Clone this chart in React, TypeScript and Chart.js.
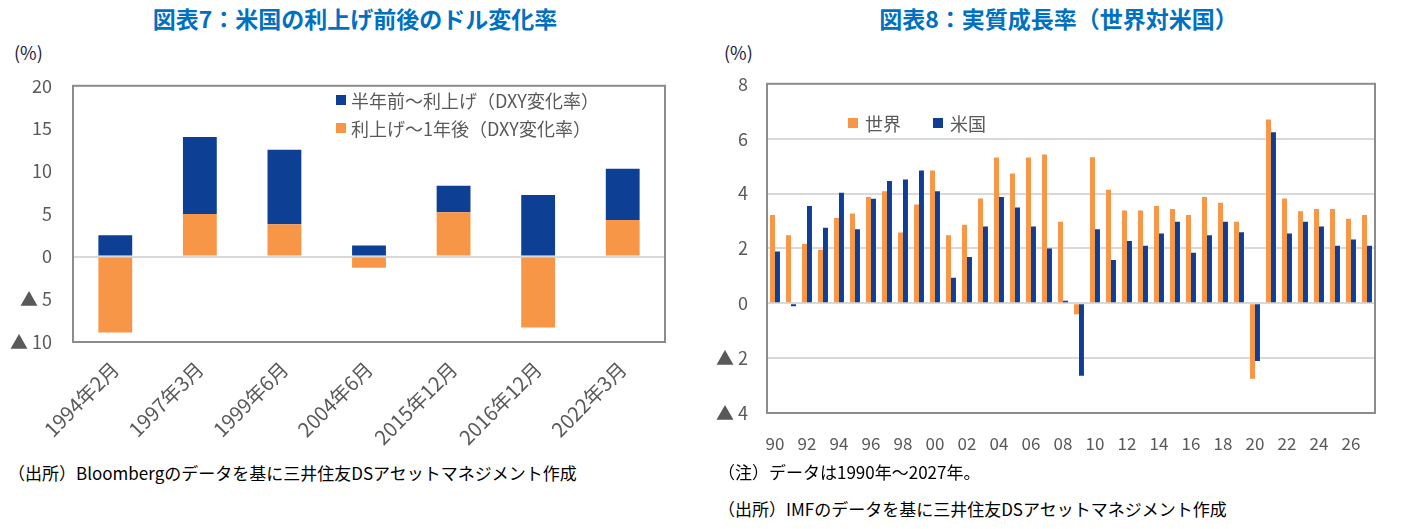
import React, { useEffect, useRef } from "react";
import { Chart, registerables } from "chart.js";

Chart.register(...registerables);

// ---------- Data: 図表7 ----------
const hikeDates = ["1994年2月", "1997年3月", "1999年6月", "2004年6月", "2015年12月", "2016年12月", "2022年3月"];
const beforeHike = [2.5, 9.0, 8.7, 1.3, 3.1, 7.2, 6.0]; // 半年前～利上げ
const afterHike = [-8.9, 5.0, 3.8, -1.3, 5.2, -8.3, 4.3]; // 利上げ～1年後
const leftTickMin = -10;
const leftTickMax = 20;
const leftTickStep = 5;

// ---------- Data: 図表8 ----------
const yearLabels = [
  "90", "91", "92", "93", "94", "95", "96", "97", "98", "99",
  "00", "01", "02", "03", "04", "05", "06", "07", "08", "09",
  "10", "11", "12", "13", "14", "15", "16", "17", "18", "19",
  "20", "21", "22", "23", "24", "25", "26", "27",
];
const worldGrowth = [
  3.22, 2.48, 2.16, 1.95, 3.11, 3.27, 3.87, 4.08, 2.58, 3.6,
  4.84, 2.48, 2.86, 3.82, 5.31, 4.73, 5.31, 5.42, 2.97, -0.4,
  5.32, 4.14, 3.38, 3.38, 3.55, 3.44, 3.22, 3.87, 3.66, 2.97,
  -2.75, 6.7, 3.82, 3.35, 3.44, 3.44, 3.08, 3.22,
];
const usGrowth = [
  1.89, -0.11, 3.55, 2.75, 4.03, 2.7, 3.81, 4.46, 4.51, 4.84,
  4.08, 0.93, 1.69, 2.8, 3.87, 3.49, 2.8, 2.0, 0.09, -2.64,
  2.7, 1.58, 2.27, 2.1, 2.54, 2.97, 1.84, 2.48, 2.97, 2.59,
  -2.1, 6.23, 2.54, 2.97, 2.8, 2.1, 2.32, 2.1,
];
const rightTickMin = -4;
const rightTickMax = 8;
const rightTickStep = 2;

const ORANGE = "#F79646";
const BLUE = "#0D3F94";
const TICK = "#595959";
const TITLE = "#0070C0";
const FONT = "'Noto Sans CJK JP', 'Noto Sans', sans-serif";

const fmtTick = (v: number) => (v < 0 ? "▲ " + String(-v) : String(v));

const framePlugin = {
  id: "frame",
  afterDraw(chart: any) {
    const { ctx, chartArea: a } = chart;
    ctx.save();
    ctx.strokeStyle = "#8c8c8c";
    ctx.lineWidth = 2;
    ctx.strokeRect(a.left, a.top, a.right - a.left, a.bottom - a.top);
    ctx.restore();
  },
};

function ChartCanvas({ width, height, config, style }: any) {
  const ref = useRef<HTMLCanvasElement | null>(null);
  useEffect(() => {
    if (!ref.current) return;
    const chart = new Chart(ref.current, config());
    return () => chart.destroy();
  }, []);
  return (
    <div style={{ position: "absolute", width, height, ...style }}>
      <canvas ref={ref} width={width} height={height} style={{ display: "block", width, height }} />
    </div>
  );
}

const leftConfig = () => ({
  type: "bar",
  data: {
    labels: hikeDates,
    datasets: [
      { label: "利上げ～1年後（DXY変化率）", data: afterHike, backgroundColor: ORANGE, barPercentage: 0.4, categoryPercentage: 1 },
      { label: "半年前～利上げ（DXY変化率）", data: beforeHike, backgroundColor: BLUE, barPercentage: 0.4, categoryPercentage: 1 },
    ],
  },
  options: {
    responsive: false,
    animation: false,
    layout: { padding: { top: 0, right: 35, left: 0, bottom: 0 } },
    plugins: { legend: { display: false }, tooltip: { enabled: false } },
    scales: {
      x: {
        stacked: true,
        grid: { display: false },
        border: { display: false },
        ticks: {
          autoSkip: false,
          minRotation: 45,
          maxRotation: 45,
          color: TICK,
          font: { family: FONT, size: 20 },
          padding: 7,
          labelOffset: 0,
        },
        afterFit(s: any) { s.height = 118; },
      },
      y: {
        stacked: true,
        min: leftTickMin,
        max: leftTickMax,
        border: { display: false },
        grid: {
          drawTicks: false,
          color: (c: any) => (c.tick && c.tick.value === 0 ? "#d9d9d9" : "rgba(0,0,0,0)"),
          lineWidth: 2,
        },
        ticks: {
          stepSize: leftTickStep,
          color: TICK,
          font: { family: FONT, size: 18 },
          padding: 21,
          callback: (v: number) => fmtTick(v),
        },
        afterFit(s: any) { s.width = 73; },
      },
    },
  },
  plugins: [framePlugin],
});

const rightConfig = () => ({
  type: "bar",
  data: {
    labels: yearLabels,
    datasets: [
      { label: "世界", data: worldGrowth, backgroundColor: ORANGE, barPercentage: 1, categoryPercentage: 0.62 },
      { label: "米国", data: usGrowth, backgroundColor: BLUE, barPercentage: 1, categoryPercentage: 0.62 },
    ],
  },
  options: {
    responsive: false,
    animation: false,
    layout: { padding: { top: 0, right: 42, left: 0, bottom: 0 } },
    plugins: { legend: { display: false }, tooltip: { enabled: false } },
    scales: {
      x: {
        grid: { display: false },
        border: { display: false },
        ticks: {
          autoSkip: false,
          maxRotation: 0,
          minRotation: 0,
          color: TICK,
          font: { family: FONT, size: 17 },
          padding: 12,
          callback: (_v: any, i: number) => (i % 2 === 0 ? yearLabels[i] : ""),
        },
        afterFit(s: any) { s.height = 47; },
      },
      y: {
        min: rightTickMin,
        max: rightTickMax,
        border: { display: false },
        grid: {
          drawTicks: false,
          color: (c: any) =>
            c.tick && (c.tick.value === rightTickMin || c.tick.value === rightTickMax) ? "rgba(0,0,0,0)" : "#d9d9d9",
          lineWidth: 2,
        },
        ticks: {
          stepSize: rightTickStep,
          color: TICK,
          font: { family: FONT, size: 18 },
          padding: 19,
          callback: (v: number) => fmtTick(v),
        },
        afterFit(s: any) { s.width = 67; },
      },
    },
  },
  plugins: [framePlugin],
});

const abs = (left: number, top: number, extra: any = {}) => ({ position: "absolute" as const, left, top, whiteSpace: "nowrap" as const, ...extra });

const titleStyle = { fontFamily: FONT, fontWeight: 700, fontSize: 23, color: TITLE, lineHeight: "30px" };
const noteStyle = { fontFamily: FONT, fontSize: 17, color: "#000", lineHeight: "22px" };
const legendText = { fontFamily: FONT, fontSize: 18, color: TICK, lineHeight: "24px" };
const pctStyle = { fontFamily: FONT, fontSize: 18, color: "#1a1a3a", lineHeight: "24px" };

function Swatch({ left, top, color }: any) {
  return <div style={{ position: "absolute", left, top, width: 10, height: 10, background: color }} />;
}

export default function App() {
  return (
    <div style={{ position: "absolute", left: 0, top: 0, width: 1417, height: 529, background: "#fff", overflow: "hidden" }}>
      <div style={abs(0, 3, { width: 710, textAlign: "center", ...titleStyle })}>図表7：米国の利上げ前後のドル変化率</div>
      <div style={abs(700, 3, { width: 717, textAlign: "center", ...titleStyle })}>図表8：実質成長率（世界対米国）</div>

      <div style={abs(14, 40, pctStyle)}>(%)</div>
      <div style={abs(724, 40, pctStyle)}>(%)</div>

      <ChartCanvas width={700} height={406} config={leftConfig} style={{ left: 0, top: 54 }} />
      <ChartCanvas width={717} height={406} config={rightConfig} style={{ left: 700, top: 54 }} />

      <Swatch left={336} top={95} color={BLUE} />
      <div style={abs(351, 88, legendText)}>半年前～利上げ（DXY変化率）</div>
      <Swatch left={336} top={123} color={ORANGE} />
      <div style={abs(351, 116, legendText)}>利上げ～1年後（DXY変化率）</div>

      <Swatch left={848} top={118} color={ORANGE} />
      <div style={abs(865, 111, legendText)}>世界</div>
      <Swatch left={933} top={118} color={BLUE} />
      <div style={abs(950, 111, legendText)}>米国</div>

      <div style={abs(8, 462, noteStyle)}>（出所）Bloombergのデータを基に三井住友DSアセットマネジメント作成</div>
      <div style={abs(718, 461, noteStyle)}>（注）データは1990年～2027年。</div>
      <div style={abs(718, 498, noteStyle)}>（出所）IMFのデータを基に三井住友DSアセットマネジメント作成</div>
    </div>
  );
}
